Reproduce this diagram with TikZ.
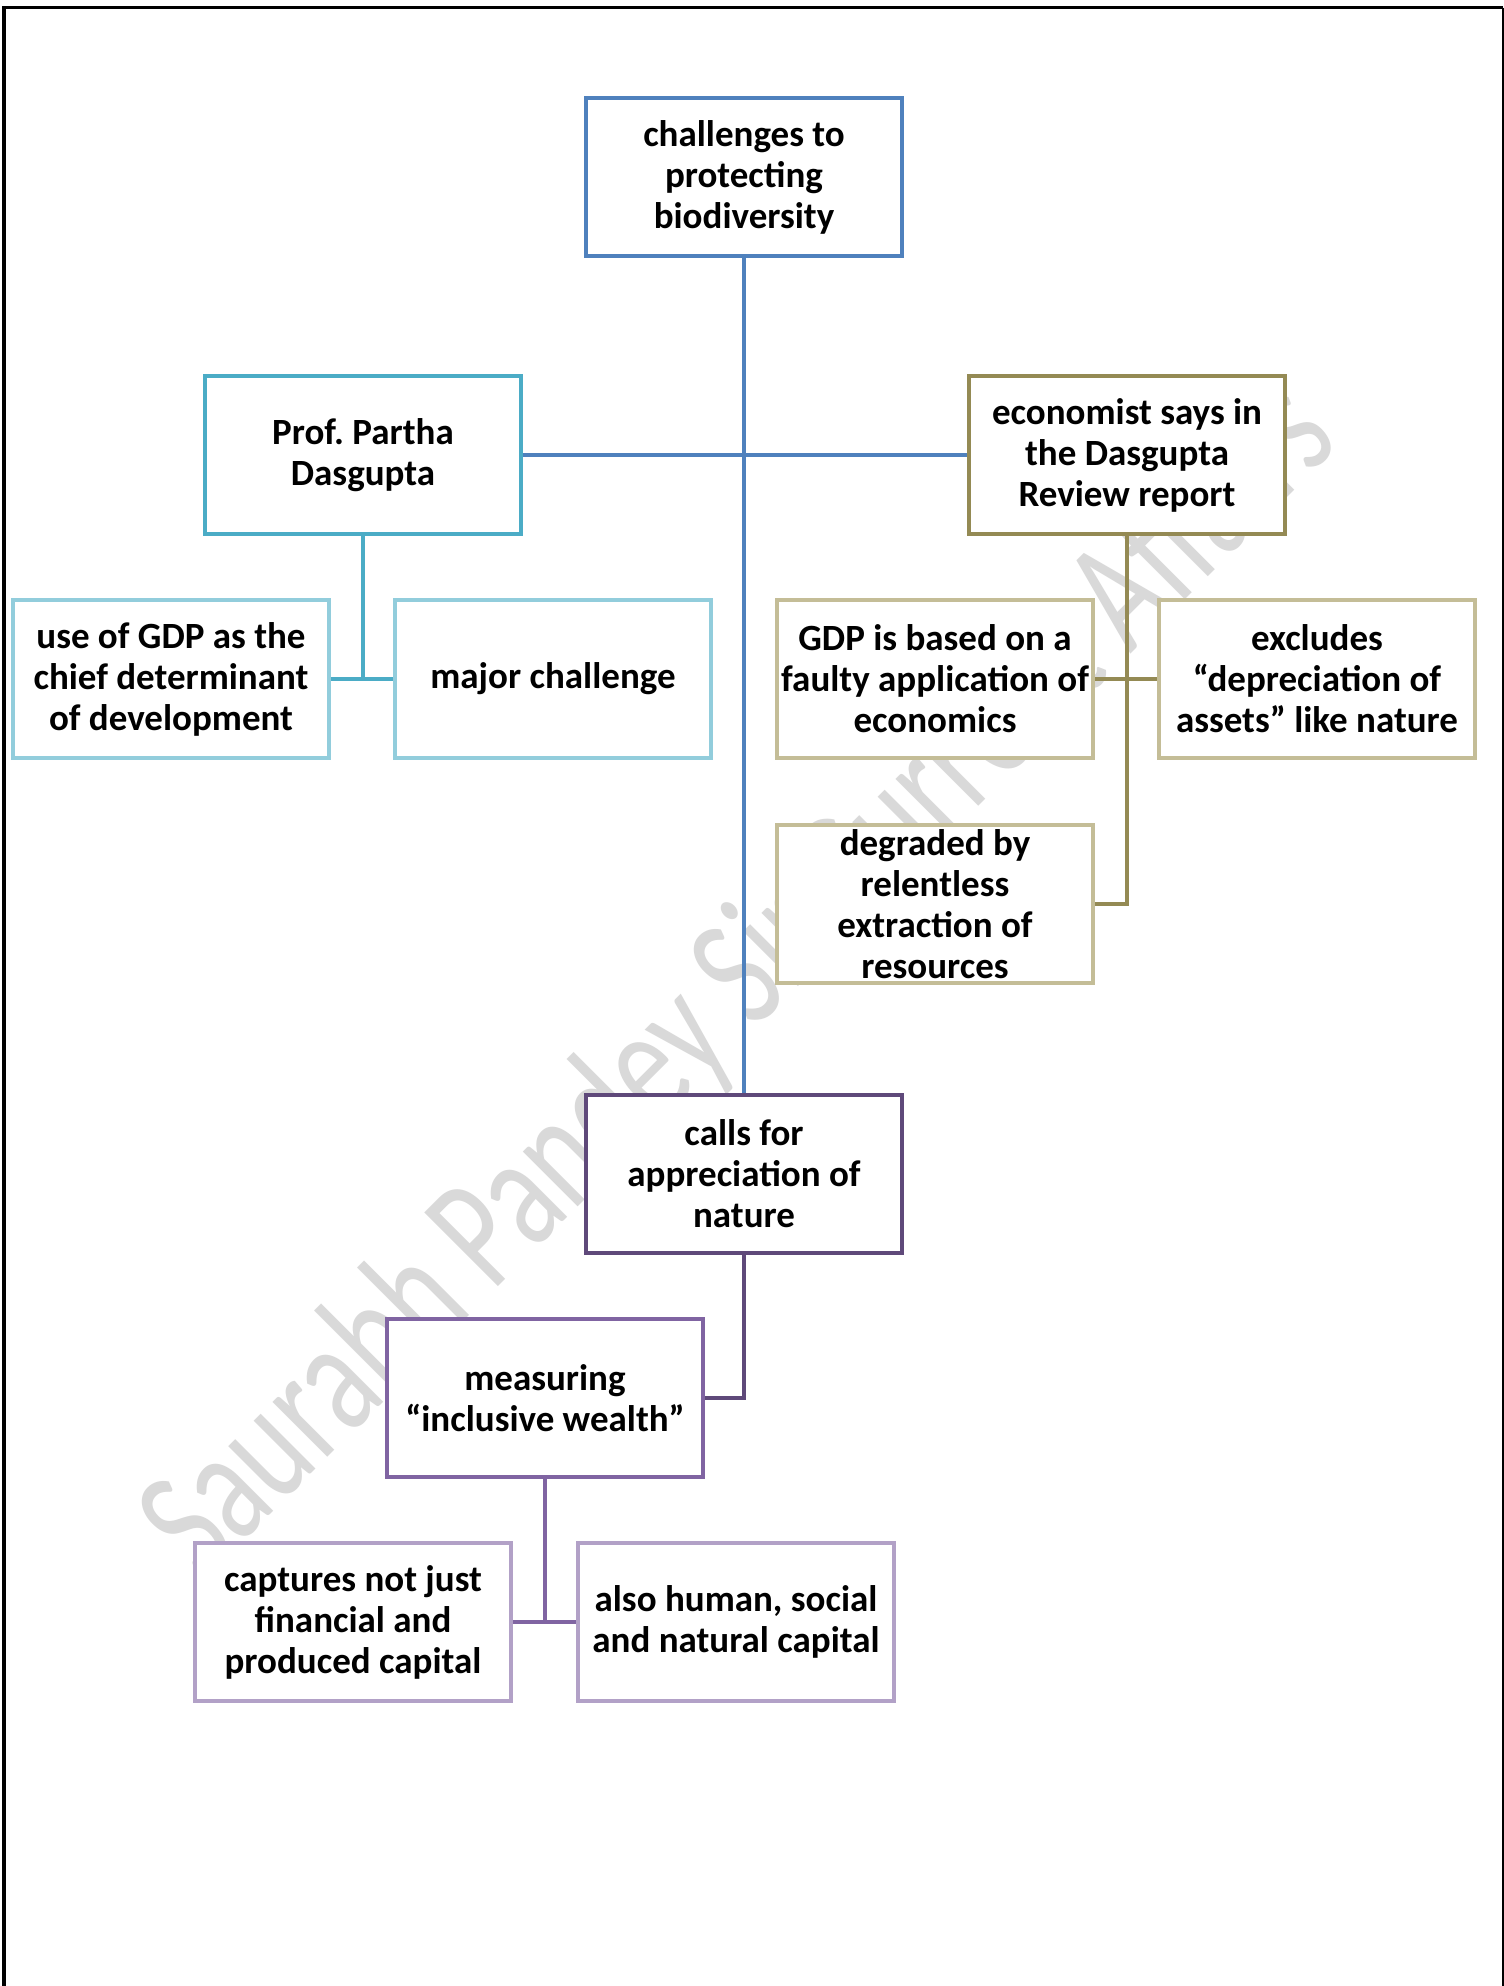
\documentclass[tikz,border=0pt]{standalone}
\usepackage{fontspec}
\setmainfont{Carlito}
\frenchspacing
\definecolor{cBlue}{RGB}{79,129,189}
\definecolor{cTeal}{RGB}{75,172,198}
\definecolor{cTealL}{RGB}{146,205,220}
\definecolor{cOlive}{RGB}{148,138,84}
\definecolor{cOliveL}{RGB}{196,189,151}
\definecolor{cPurD}{RGB}{95,73,122}
\definecolor{cPur}{RGB}{128,100,162}
\definecolor{cPurL}{RGB}{178,161,199}
\definecolor{wm}{RGB}{217,217,217}
\tikzset{
  box/.style={draw=#1, fill=white, line width=2.25pt, minimum width=158pt, minimum height=79pt, inner sep=0pt},
  txt/.style={align=center, inner sep=0pt, font=\fontsize{18.5}{20.5}\selectfont\bfseries},
  conn/.style={draw=#1, line width=2.2pt},
}
\begin{document}
\begin{tikzpicture}[x=0.5pt, y=-0.5pt]
\useasboundingbox (0,0) rectangle (1504,1986);
\fill[white] (0,0) rectangle (1504,1986);
% frame
\draw[line width=2pt] (4,1986) -- (4,7.5);
\draw[line width=1.75pt] (2,7.5) -- (1502.5,7.5);
\draw[line width=1pt] (1502.5,7.5) -- (1502.5,1986);
% watermark
\node[rotate=45, yscale=1.4, transform shape, anchor=base, text=wm, inner sep=0pt] (wmark) at (772,1013) {\fontsize{58}{60}\selectfont Saurabh Pandey Sir Current Affairs};
% boxes
\node[box=cBlue] (top) at (744,177) {};
\node[box=cTeal] (prof) at (363,455) {};
\node[box=cOlive] (econ) at (1127,455) {};
\node[box=cTealL] (gdpuse) at (171,679) {};
\node[box=cTealL] (major) at (553,679) {};
\node[box=cOliveL] (gdpb) at (935,679) {};
\node[box=cOliveL] (excl) at (1317,679) {};
\node[box=cOliveL] (degr) at (935,904) {};
\node[box=cPurD] (calls) at (744,1174) {};
\node[box=cPur] (meas) at (545,1398) {};
\node[box=cPurL] (capt) at (353,1622) {};
\node[box=cPurL] (also) at (736,1622) {};
% texts
\node[txt] (top-t) at (top) {challenges to\\protecting\\biodiversity};
\node[txt] (prof-t) at (prof) {Prof. Partha\\Dasgupta};
\node[txt] (econ-t) at (econ) {economist says in\\the Dasgupta\\Review report};
\node[txt] (gdpuse-t) at (gdpuse) {use of GDP as the\\chief determinant\\of development};
\node[txt] (major-t) at (major) {major challenge};
\node[txt] (gdpb-t) at (gdpb) {GDP is based on a\\faulty application of\\economics};
\node[txt] (excl-t) at (excl) {excludes\\“depreciation of\\assets” like nature};
\node[txt] (degr-t) at (degr) {degraded by\\relentless\\extraction of\\resources};
\node[txt] (calls-t) at (calls) {calls for\\appreciation of\\nature};
\node[txt] (meas-t) at (meas) {measuring\\“inclusive wealth”};
\node[txt] (capt-t) at (capt) {captures not just\\financial and\\produced capital};
\node[txt] (also-t) at (also) {also human, social\\and natural capital};
% connectors
\draw[conn=cBlue] (top.south) -- (calls.north);
\draw[conn=cBlue] (prof.east) -- (econ.west);
\draw[conn=cTeal] (prof.south) -- (prof.south |- gdpuse.east);
\draw[conn=cTeal] (gdpuse.east) -- (major.west);
\draw[conn=cOlive] (econ.south) |- (degr.east);
\draw[conn=cOlive] (gdpb.east) -- (excl.west);
\draw[conn=cPurD] (calls.south) |- (meas.east);
\draw[conn=cPur] (meas.south) -- (meas.south |- capt.east);
\draw[conn=cPur] (capt.east) -- (also.west);
\end{tikzpicture}
\end{document}
